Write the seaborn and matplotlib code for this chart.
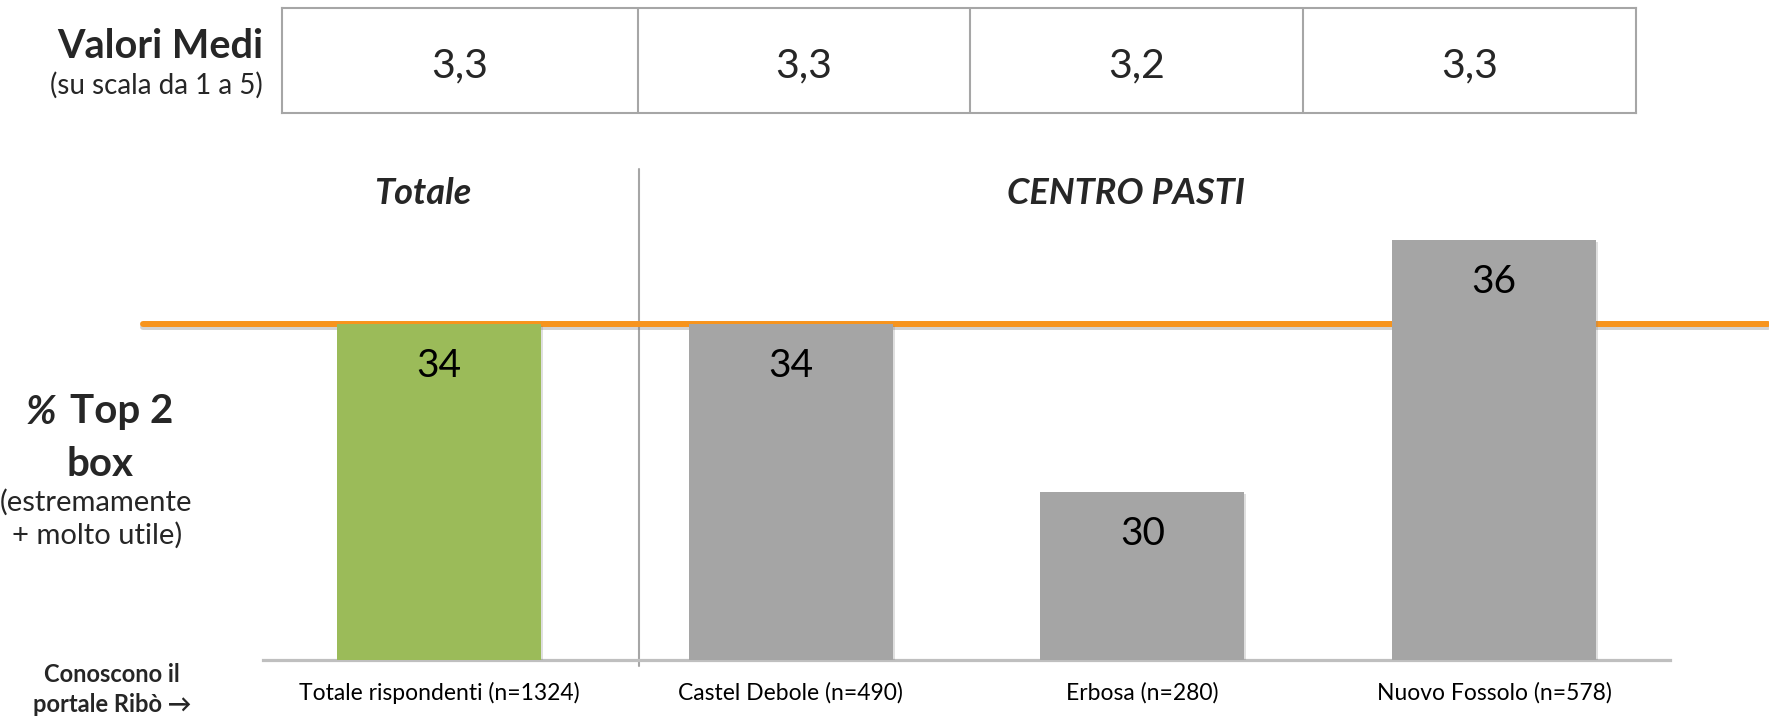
import matplotlib
matplotlib.use("Agg")
import matplotlib.pyplot as plt
import matplotlib.patheffects as pe
import seaborn as sns
import pandas as pd

# data
groups = ["Totale rispondenti (n=1324)", "Castel Debole (n=490)",
          "Erbosa (n=280)", "Nuovo Fossolo (n=578)"]
top2_box = [34, 34, 30, 36]
mean_values = ["3,3", "3,3", "3,2", "3,3"]
bar_colors = ["#9BBB59", "#A5A5A5", "#A5A5A5", "#A5A5A5"]

sns.set_theme(style="white")
plt.rcParams["font.family"] = ["Lato", "DejaVu Sans"]

W, H = 1769, 719
fig = plt.figure(figsize=(W / 100, H / 100), dpi=100)
fig.patch.set_facecolor("white")


def fx(px):
    return px / W


def fy(py):
    return 1 - py / H


# main bar chart
ax = fig.add_axes([fx(263), fy(660), fx(1670) - fx(263), (660 - 156) / H])
df = pd.DataFrame({"group": groups, "value": top2_box})
sns.barplot(data=df, x="group", y="value", hue="group", palette=bar_colors,
            width=0.58, legend=False, ax=ax, zorder=3, saturation=1,
            edgecolor="none", linewidth=0)
ax.set_ylim(26, 38)
ax.set_xlim(-0.5, 3.5)
ax.set_xlabel("")
ax.set_ylabel("")
ax.set_yticks([])
ax.tick_params(axis="x", length=0, pad=16, labelsize=16.5, colors="black")
for s in ["top", "left", "right"]:
    ax.spines[s].set_visible(False)
ax.spines["bottom"].set_color("#BFBFBF")
ax.spines["bottom"].set_linewidth(2.3)

for p in ax.patches:
    p.set_path_effects([pe.SimplePatchShadow(offset=(1.5, -1.5), shadow_rgbFace="gray", alpha=0.25), pe.Normal()])

# reference line at total value
ax.axhline(top2_box[0], xmin=(143 - 263) / 1408, xmax=(1769 - 263) / 1408,
           color="#F7941D", lw=4.3, zorder=2, clip_on=False,
           path_effects=[pe.SimpleLineShadow(offset=(0, -2.5), shadow_color="gray", alpha=0.35), pe.Normal()])

# separator
ax.axvline(0.568, ymin=-0.012, ymax=(660 - 169) / 504, color="#A6A6A6", lw=1.5,
           clip_on=False, zorder=1)

for i, v in enumerate(top2_box):
    ax.annotate(str(v), (i, v), xytext=(0, -30.5), textcoords="offset points",
                ha="center", va="center", fontsize=28, color="black", zorder=5)

# group headers
fig.text(fx(423), fy(194), "Totale", ha="center", va="center", fontsize=26,
         fontweight="bold", fontstyle="italic")
fig.text(fx(1126), fy(194), "CENTRO PASTI", ha="center", va="center", fontsize=26,
         fontweight="bold", fontstyle="italic")

# mean values table
tab = fig.add_axes([fx(282), fy(113), fx(1636) - fx(282), (113 - 8) / H])
edges = [(e - 282) / (1636 - 282) for e in [282, 638, 970, 1303, 1636]]
tab.set_xlim(0, 1)
tab.set_ylim(0, 1)
tab.set_xticks([])
tab.set_yticks([])
for s in tab.spines.values():
    s.set_color("#A6A6A6")
    s.set_linewidth(1.5)
for e in edges[1:-1]:
    tab.axvline(e, color="#A6A6A6", lw=1.5)
for k, val in enumerate(mean_values):
    tab.text((edges[k] + edges[k + 1]) / 2, 0.45, val, ha="center", va="center",
             fontsize=29.5)

# left side annotations
fig.text(fx(263), fy(47), "Valori Medi", ha="right", va="center", fontsize=28.5,
         fontweight="bold")
fig.text(fx(263), fy(85), "(su scala da 1 a 5)", ha="right", va="center", fontsize=20)

fig.text(fx(56), fy(412), "%", ha="right", va="center", fontsize=29,
         fontweight="bold", fontstyle="italic")
fig.text(fx(70), fy(412), "Top 2", ha="left", va="center", fontsize=29,
         fontweight="bold")
fig.text(fx(100), fy(464), "box", ha="center", va="center", fontsize=29,
         fontweight="bold")
fig.text(fx(96), fy(502), "(estremamente", ha="center", va="center", fontsize=21)
fig.text(fx(97), fy(535), "+ molto utile)", ha="center", va="center", fontsize=21)
fig.text(fx(112), fy(674), "Conoscono il", ha="center", va="center", fontsize=17,
         fontweight="bold")
fig.text(fx(112), fy(705), "portale Ribò \u2192", ha="center", va="center", fontsize=17,
         fontweight="bold")

fig.savefig("out.png", dpi=100, facecolor="white")
